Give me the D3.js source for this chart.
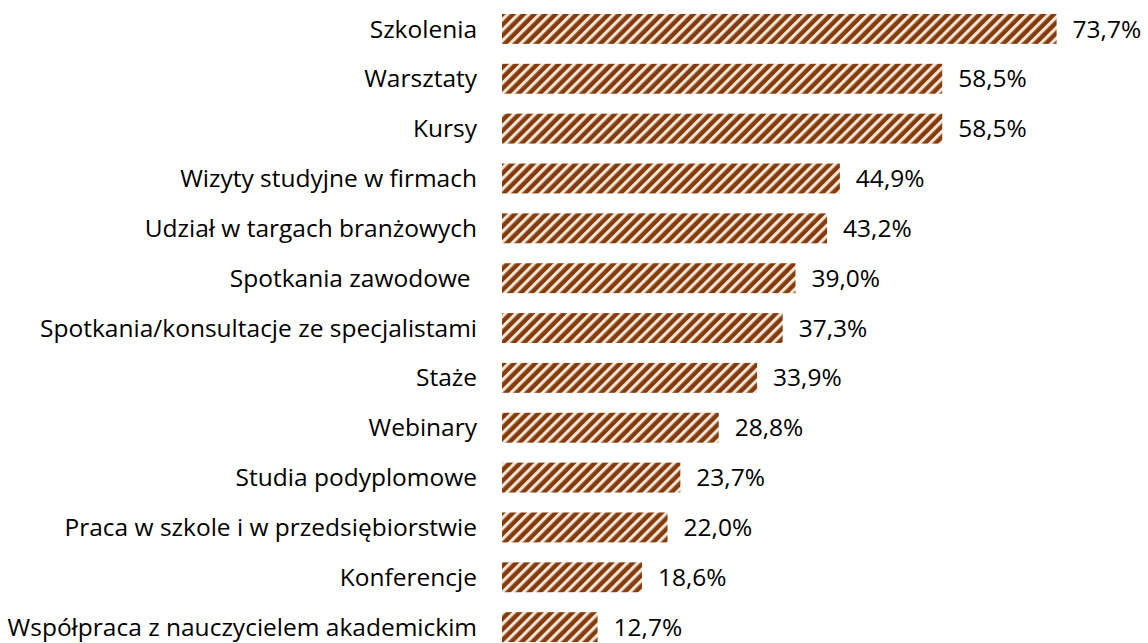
<!DOCTYPE html>
<html><head><meta charset="utf-8">
<script src="https://cdn.jsdelivr.net/npm/d3@7"></script>
<style>body{margin:0;background:#fff}svg{display:block}text{font-family:"Open Sans",sans-serif;white-space:pre}</style>
</head><body><svg id="c" width="1148" height="643"></svg>
<script>
const categories = ["Szkolenia","Warsztaty","Kursy","Wizyty studyjne w firmach","Udział w targach branżowych","Spotkania zawodowe ","Spotkania/konsultacje ze specjalistami","Staże","Webinary","Studia podyplomowe","Praca w szkole i w przedsiębiorstwie","Konferencje","Współpraca z nauczycielem akademickim"];
const values = [73.7,58.5,58.5,44.9,43.2,39.0,37.3,33.9,28.8,23.7,22.0,18.6,12.7];
const valueLabels = ["73,7%","58,5%","58,5%","44,9%","43,2%","39,0%","37,3%","33,9%","28,8%","23,7%","22,0%","18,6%","12,7%"];

const svg = d3.select("#c");
const defs = svg.append("defs");
const pat = defs.append("pattern").attr("id","hatch").attr("patternUnits","userSpaceOnUse")
  .attr("width",7.5).attr("height",7.5).attr("patternTransform","rotate(45)");
pat.append("rect").attr("width",7.5).attr("height",7.5).attr("fill","#843C0C");
pat.append("rect").attr("width",3.1).attr("height",7.5).attr("fill","#FBE5D6");

const x = d3.scaleLinear().domain([0,80]).range([502,502+80*7.525]);
const y = d3.scaleBand().domain(categories).range([4,4+13*49.85]).paddingInner(0.4).paddingOuter(0.2);

const fs = 24.5;
const g = svg.append("g");
g.selectAll("rect.bar").data(values).join("rect").attr("class","bar")
  .attr("x",x(0)).attr("y",(d,i)=>y(categories[i]))
  .attr("width",d=>x(d)-x(0)).attr("height",y.bandwidth())
  .attr("fill","url(#hatch)");

g.selectAll("text.val").data(values).join("text").attr("class","val")
  .attr("x",d=>x(d)+16).attr("y",(d,i)=>y(categories[i])+y.bandwidth()/2)
  .attr("dy","0.35em").attr("font-size",fs).attr("fill","#000")
  .text((d,i)=>valueLabels[i]);

const yAxis = d3.axisLeft(y).tickSize(0).tickPadding(0);
const ax = svg.append("g").attr("transform",`translate(${x(0)-25},0)`).call(yAxis);
ax.select(".domain").remove();
ax.selectAll("text").attr("font-size",fs).attr("fill","#000").attr("font-family","'Open Sans',sans-serif").attr("dy","0.35em").style("white-space","pre");
</script></body></html>
